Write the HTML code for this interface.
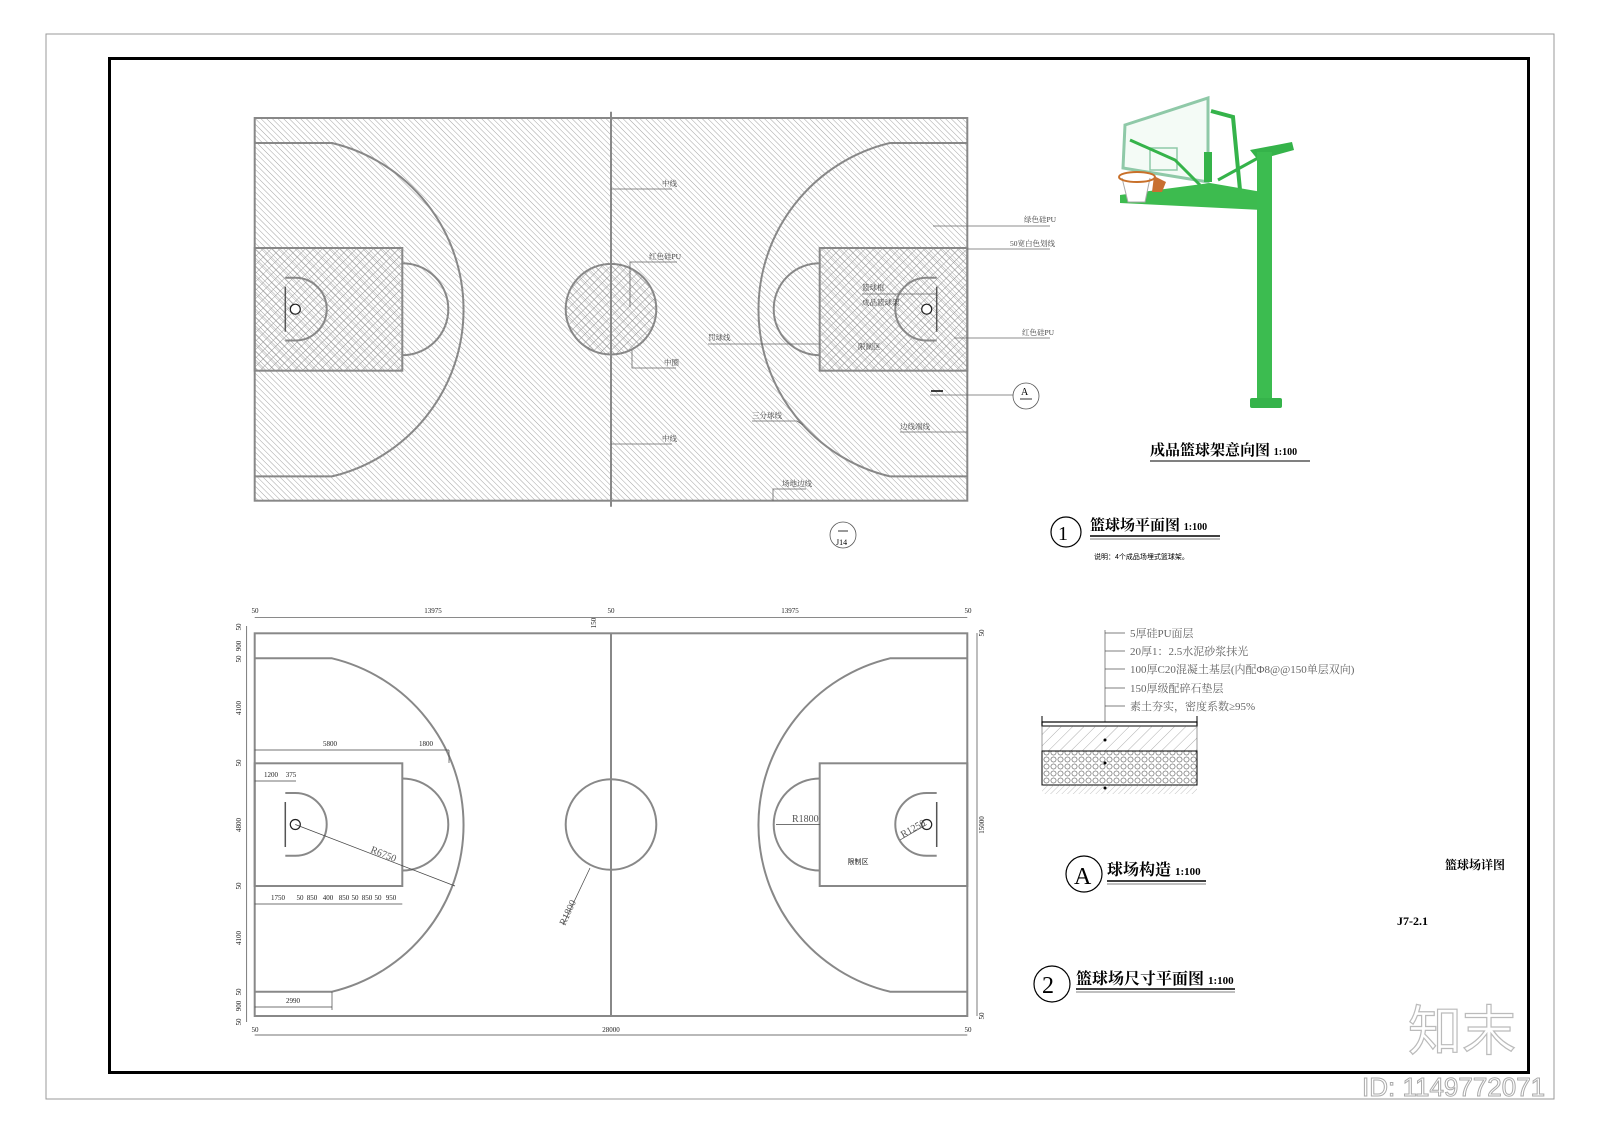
<!DOCTYPE html>
<html><head><meta charset="utf-8">
<style>
html,body{margin:0;padding:0;background:#fff;}
svg{display:block;}
text{font-family:"Liberation Serif","Noto Serif CJK SC","Noto Sans CJK SC",serif;}
.s{font-family:"Liberation Sans","Noto Sans CJK SC",sans-serif;}
</style></head>
<body>
<svg width="1600" height="1131" viewBox="0 0 1600 1131" xmlns="http://www.w3.org/2000/svg">
<defs>
<pattern id="h1" patternUnits="userSpaceOnUse" width="4" height="4" patternTransform="rotate(-45)">
<line x1="0" y1="0" x2="0" y2="4" stroke="#9a9a9a" stroke-width="0.9"/>
</pattern>
<pattern id="h2" patternUnits="userSpaceOnUse" width="6" height="6" patternTransform="rotate(45)">
<line x1="0" y1="0" x2="0" y2="6" stroke="#8a8a8a" stroke-width="0.8"/>
<line x1="0" y1="0" x2="6" y2="0" stroke="#8a8a8a" stroke-width="0.8"/>
</pattern>
<pattern id="gr" patternUnits="userSpaceOnUse" width="7" height="7">
<circle cx="3.5" cy="3.5" r="2.6" fill="none" stroke="#555" stroke-width="0.6"/>
</pattern>
<pattern id="cc" patternUnits="userSpaceOnUse" width="8" height="8" patternTransform="rotate(45)">
<line x1="0" y1="0" x2="0" y2="8" stroke="#777" stroke-width="0.6"/>
</pattern>
<pattern id="so" patternUnits="userSpaceOnUse" width="4" height="4" patternTransform="rotate(45)">
<line x1="0" y1="0" x2="0" y2="4" stroke="#888" stroke-width="0.5"/>
</pattern>
<g id="court" fill="none" stroke="#888" stroke-width="2">
<path d="M254.7,658.3 L332,658.3 A171.4,171.4 0 0 1 332,991.7 L254.7,991.7"/>
<path d="M967.3,658.3 L890,658.3 A171.4,171.4 0 0 0 890,991.7 L967.3,991.7"/>
<rect x="254.7" y="763.3" width="147.6" height="122.7"/>
<rect x="819.7" y="763.3" width="147.6" height="122.7"/>
<path d="M402.3,778.5 A46,46 0 0 1 402.3,870.5"/>
<path d="M819.7,778.5 A46,46 0 0 0 819.7,870.5"/>
<path d="M285.3,793 L295.3,793 A31.4,31.4 0 0 1 295.3,855.8 L285.3,855.8"/>
<path d="M936.7,793 L926.7,793 A31.4,31.4 0 0 0 926.7,855.8 L936.7,855.8"/>
<circle cx="611" cy="824.5" r="45.3"/>
<line x1="611" y1="633.3" x2="611" y2="1016"/>
<rect x="254.7" y="633.3" width="712.6" height="382.7"/>
</g>
</defs>

<rect x="46" y="34" width="1508" height="1065" fill="none" stroke="#999" stroke-width="1"/>
<rect x="109.5" y="58.5" width="1419" height="1014" fill="none" stroke="#000" stroke-width="3"/>

<g transform="translate(0,-515.3)">
<rect x="254.7" y="633.3" width="712.6" height="382.7" fill="url(#h1)"/>
<rect x="254.7" y="763.3" width="147.6" height="122.7" fill="url(#h2)"/>
<rect x="819.7" y="763.3" width="147.6" height="122.7" fill="url(#h2)"/>
<circle cx="611" cy="824.5" r="45.3" fill="url(#h2)"/>
<use href="#court"/>
<line x1="611" y1="627" x2="611" y2="1022" stroke="#888" stroke-width="2"/>
<line x1="285.3" y1="802" x2="285.3" y2="847" stroke="#555" stroke-width="1.5"/>
<line x1="936.7" y1="802" x2="936.7" y2="847" stroke="#555" stroke-width="1.5"/>
<circle cx="295.3" cy="824.5" r="5" fill="#fff" stroke="#222" stroke-width="1.2"/>
<circle cx="926.7" cy="824.5" r="5" fill="#fff" stroke="#222" stroke-width="1.2"/>
</g>

<g stroke="#666" stroke-width="0.8" fill="none">
<polyline points="611,189 672,189"/>
<polyline points="611,444 672,444"/>
<polyline points="933,226 1050,226"/>
<polyline points="967,249 1050,249"/>
<polyline points="954,338 1050,338"/>
<polyline points="930,395 1013,395"/>
<polyline points="630,307 630,262 677,262"/>
<polyline points="632,350 632,368 676,368"/>
<polyline points="708,344 820,344"/>
<polyline points="752,421 797,421 803,425"/>
<polyline points="900,432 967,432"/>
<polyline points="773,501 773,489 806,489"/>
<polyline points="862,294 937,294"/>
</g>
<line x1="931" y1="391" x2="943" y2="391" stroke="#000" stroke-width="1.5"/>
<g class="s" font-size="7.5" fill="#444">
<text x="662" y="186">中线</text>
<text x="662" y="441">中线</text>
<text x="1024" y="222">绿色硅PU</text>
<text x="1010" y="246">50宽白色划线</text>
<text x="1022" y="335">红色硅PU</text>
<text x="649" y="259">红色硅PU</text>
<text x="664" y="365">中圈</text>
<text x="708" y="340">罚球线</text>
<text x="752" y="418">三分球线</text>
<text x="900" y="429">边线端线</text>
<text x="782" y="486">场地边线</text>
<text x="862" y="290">篮球框</text>
<text x="862" y="305">成品篮球架</text>
<text x="858" y="349">限制区</text>
</g>
<circle cx="1026" cy="396" r="13" fill="#fff" stroke="#555" stroke-width="0.8"/>
<text x="1021" y="395" font-size="10">A</text>
<line x1="1020" y1="399" x2="1032" y2="399" stroke="#333"/>
<circle cx="843" cy="535" r="13" fill="none" stroke="#555" stroke-width="0.8"/>
<line x1="838" y1="531" x2="848" y2="531" stroke="#333"/>
<text x="836" y="545" font-size="8">J14</text>

<use href="#court"/>
<line x1="285.3" y1="802" x2="285.3" y2="847" stroke="#555" stroke-width="1.5"/>
<line x1="936.7" y1="802" x2="936.7" y2="847" stroke="#555" stroke-width="1.5"/>
<circle cx="295.3" cy="824.5" r="5" fill="#fff" stroke="#222" stroke-width="1.2"/>
<circle cx="926.7" cy="824.5" r="5" fill="#fff" stroke="#222" stroke-width="1.2"/>

<g stroke="#444" stroke-width="0.7" fill="none">
<line x1="254.7" y1="617.3" x2="967.3" y2="617.3"/>
<line x1="254.7" y1="1035" x2="967.3" y2="1035"/>
<line x1="246.7" y1="626" x2="246.7" y2="1022"/>
<line x1="977" y1="633" x2="977" y2="1016"/>
<line x1="254.7" y1="750" x2="449" y2="750"/>
<line x1="449" y1="750" x2="449" y2="763"/>
<line x1="254.7" y1="781" x2="296" y2="781"/>
<line x1="254.7" y1="904" x2="402.3" y2="904"/>
<line x1="254.7" y1="1007" x2="332" y2="1007"/>
<line x1="332" y1="991.7" x2="332" y2="1010"/>
<line x1="295.3" y1="824.5" x2="455" y2="886"/>
<line x1="590" y1="868" x2="563" y2="925"/>
<line x1="819.7" y1="824.5" x2="776" y2="824.5"/>
<line x1="926.7" y1="824.5" x2="900" y2="840"/>
</g>
<g font-size="7" fill="#222" text-anchor="middle">
<text x="255" y="613">50</text><text x="433" y="613">13975</text><text x="611" y="613">50</text>
<text x="790" y="613">13975</text><text x="968" y="613">50</text>
<text x="255" y="1032">50</text><text x="611" y="1032">28000</text><text x="968" y="1032">50</text>
<text x="330" y="746">5800</text><text x="426" y="746">1800</text>
<text x="271" y="777">1200</text><text x="291" y="777">375</text>
<text x="278" y="900">1750</text><text x="300" y="900">50</text><text x="312" y="900">850</text>
<text x="328" y="900">400</text><text x="344" y="900">850</text><text x="355" y="900">50</text>
<text x="367" y="900">850</text><text x="378" y="900">50</text><text x="391" y="900">950</text>
<text x="293" y="1003">2990</text>
<text x="858" y="864" class="s">限制区</text>
<text transform="translate(241,627) rotate(-90)">50</text>
<text transform="translate(241,646) rotate(-90)">900</text>
<text transform="translate(241,659) rotate(-90)">50</text>
<text transform="translate(241,708) rotate(-90)">4100</text>
<text transform="translate(241,763) rotate(-90)">50</text>
<text transform="translate(241,825) rotate(-90)">4800</text>
<text transform="translate(241,886) rotate(-90)">50</text>
<text transform="translate(241,938) rotate(-90)">4100</text>
<text transform="translate(241,992) rotate(-90)">50</text>
<text transform="translate(241,1006) rotate(-90)">900</text>
<text transform="translate(241,1022) rotate(-90)">50</text>
<text transform="translate(984,825) rotate(-90)">15000</text>
<text transform="translate(984,633) rotate(-90)">50</text>
<text transform="translate(984,1016) rotate(-90)">50</text>
<text transform="translate(596,623) rotate(-90)">150</text>
</g>
<g class="s" font-size="10" fill="#555">
<text transform="translate(370,852) rotate(22)">R6750</text>
<text transform="translate(565,926) rotate(-65)">R1800</text>
<text x="792" y="822">R1800</text>
<text transform="translate(903,838) rotate(-30)">R1250</text>
</g>

<g>
<polygon points="1125,125 1208,98 1208,182 1123,168" fill="#f4fbf6" stroke="#8fc9a8" stroke-width="3"/>
<rect x="1150" y="148" width="27" height="22" fill="none" stroke="#8fc9a8" stroke-width="1.5"/>
<rect x="1204" y="152" width="8" height="30" fill="#35b34a"/>
<path d="M1211,111 L1233,117 L1240,190" fill="none" stroke="#35b34a" stroke-width="4"/>
<path d="M1130,140 L1175,160 L1200,185" fill="none" stroke="#35b34a" stroke-width="3"/>
<line x1="1218" y1="180" x2="1258" y2="158" stroke="#35b34a" stroke-width="3"/>
<polygon points="1120,195 1210,183 1262,192 1262,210 1120,203" fill="#3dbb4f"/>
<polygon points="1250,150 1292,142 1294,150 1258,160" fill="#35b34a"/>
<rect x="1257" y="152" width="15" height="252" fill="#3cbc50"/>
<rect x="1250" y="398" width="32" height="10" rx="2" fill="#35b34a"/>
<path d="M1122,178 L1128,202 L1145,202 L1150,178" fill="#fff" stroke="#aaa" stroke-width="1"/>
<ellipse cx="1137" cy="177" rx="18" ry="5" fill="none" stroke="#c8702a" stroke-width="2"/>
<polygon points="1154,176 1166,182 1162,192 1152,192" fill="#c87030"/>
</g>
<text x="1150" y="455" font-size="15" font-weight="bold">成品篮球架意向图 <tspan font-size="10">1:100</tspan></text>
<line x1="1150" y1="461" x2="1310" y2="461" stroke="#000" stroke-width="1"/>

<circle cx="1066" cy="532" r="15" fill="none" stroke="#000" stroke-width="1.2"/>
<text x="1058" y="540" font-size="20">1</text>
<text x="1090" y="530" font-size="15" font-weight="bold">篮球场平面图 <tspan font-size="10">1:100</tspan></text>
<line x1="1090" y1="536" x2="1220" y2="536" stroke="#000" stroke-width="1.5"/>
<line x1="1090" y1="539" x2="1220" y2="539" stroke="#000" stroke-width="0.6"/>
<text x="1094" y="559" font-size="7" class="s">说明：4个成品场埋式篮球架。</text>

<g stroke="#555" stroke-width="0.7">
<line x1="1105" y1="630" x2="1105" y2="724"/>
<line x1="1105" y1="633" x2="1125" y2="633"/><line x1="1105" y1="651" x2="1125" y2="651"/>
<line x1="1105" y1="669" x2="1125" y2="669"/><line x1="1105" y1="688" x2="1125" y2="688"/>
<line x1="1105" y1="706" x2="1125" y2="706"/>
</g>
<g class="s" font-size="11" fill="#666">
<text x="1130" y="637">5厚硅PU面层</text>
<text x="1130" y="655">20厚1：2.5水泥砂浆抹光</text>
<text x="1130" y="673">100厚C20混凝土基层(内配Φ8@@150单层双向)</text>
<text x="1130" y="692">150厚级配碎石垫层</text>
<text x="1130" y="710">素土夯实，密度系数≥95%</text>
</g>
<line x1="1042" y1="716" x2="1042" y2="724" stroke="#000"/>
<line x1="1197" y1="716" x2="1197" y2="724" stroke="#000"/>
<rect x="1042" y="722" width="155" height="4" fill="#fff" stroke="#000" stroke-width="1.2"/>
<rect x="1042" y="726" width="155" height="25" fill="url(#cc)" stroke="#555" stroke-width="0.6"/>
<rect x="1042" y="751" width="155" height="34" fill="url(#gr)" stroke="#000" stroke-width="1"/>
<rect x="1042" y="785" width="155" height="9" fill="url(#so)"/>
<circle cx="1105" cy="740" r="1.5"/><circle cx="1105" cy="763" r="1.5"/><circle cx="1105" cy="788" r="1.5"/>

<circle cx="1084" cy="874" r="18" fill="none" stroke="#000" stroke-width="1.2"/>
<text x="1074" y="884" font-size="24">A</text>
<text x="1107" y="875" font-size="16" font-weight="bold">球场构造 <tspan font-size="11">1:100</tspan></text>
<line x1="1107" y1="881" x2="1206" y2="881" stroke="#000" stroke-width="1.5"/>
<line x1="1107" y1="884" x2="1206" y2="884" stroke="#000" stroke-width="0.6"/>

<circle cx="1052" cy="984" r="18" fill="none" stroke="#000" stroke-width="1.2"/>
<text x="1042" y="993" font-size="24">2</text>
<text x="1076" y="984" font-size="16" font-weight="bold">篮球场尺寸平面图 <tspan font-size="11">1:100</tspan></text>
<line x1="1076" y1="989" x2="1235" y2="989" stroke="#000" stroke-width="1.5"/>
<line x1="1076" y1="992" x2="1235" y2="992" stroke="#000" stroke-width="0.6"/>

<text x="1445" y="869" font-size="12" font-weight="bold">篮球场详图</text>
<text x="1397" y="925" font-size="12" font-weight="bold">J7-2.1</text>

<text x="1408" y="1050" font-size="54" class="s" fill="#fff" stroke="#bbb" stroke-width="1.2">知末</text>
<text x="1362" y="1096" font-size="26" class="s" fill="#fff" stroke="#aaa" stroke-width="1">ID: 1149772071</text>
</svg>
</body></html>
